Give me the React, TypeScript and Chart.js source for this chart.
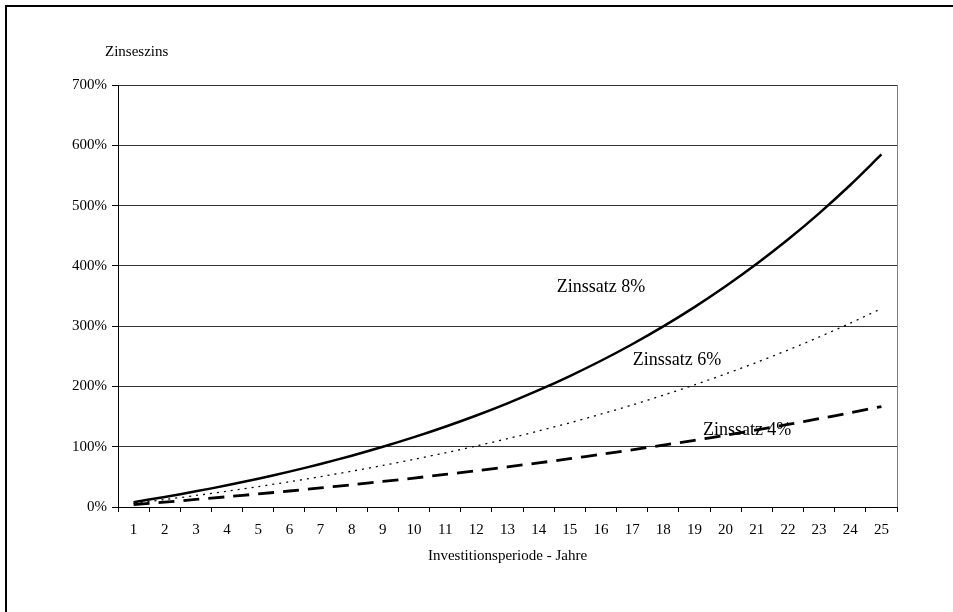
import React, { useEffect, useRef } from 'react';
import { Chart, registerables } from 'chart.js';

Chart.register(...registerables);

const years = ['1','2','3','4','5','6','7','8','9','10','11','12','13','14','15','16','17','18','19','20','21','22','23','24','25'];

const rate8 = [8.0, 16.64, 25.97, 36.05, 46.93, 58.69, 71.38, 85.09, 99.9, 115.89, 133.16, 151.82, 171.96, 193.72, 217.22, 242.59, 270.0, 299.6, 331.57, 366.1, 403.38, 443.65, 487.15, 534.12, 584.85];
const rate6 = [6.0, 12.36, 19.1, 26.25, 33.82, 41.85, 50.36, 59.38, 68.95, 79.08, 89.83, 101.22, 113.29, 126.09, 139.66, 154.04, 169.28, 185.43, 202.56, 220.71, 239.96, 260.35, 281.98, 304.89, 329.19];
const rate4 = [4.0, 8.16, 12.49, 16.99, 21.67, 26.53, 31.59, 36.86, 42.33, 48.02, 53.95, 60.1, 66.51, 73.17, 80.09, 87.3, 94.79, 102.58, 110.68, 119.11, 127.88, 136.99, 146.47, 156.33, 166.58];

const seriesLabels = ['Zinssatz 8%', 'Zinssatz 6%', 'Zinssatz 4%'];
const yAxisTitle = 'Zinseszins';
const xAxisTitle = 'Investitionsperiode - Jahre';
const yMin = 0;
const yMax = 700;
const yStep = 100;

// label anchor points in data coordinates (category index, value)
const labelAnchorX = [15, 17.44, 19.69];
const labelAnchorY = [365, 244, 128];

const FONT = '"Liberation Serif", "Times New Roman", serif';

const textPlugin = {
  id: 'textPlugin',
  beforeDraw(chart: any) {
    const ctx = chart.ctx;
    ctx.save();
    ctx.fillStyle = '#ffffff';
    ctx.fillRect(0, 0, chart.width, chart.height);
    ctx.fillStyle = '#000000';
    ctx.fillRect(5, 5, chart.width - 5, 2);
    ctx.fillRect(5, 5, 2, chart.height - 5);
    ctx.restore();
  },
  afterDatasetsDraw(chart: any) {
    const { ctx, chartArea: a, scales } = chart;
    const x = scales.x;
    const y = scales.y;
    ctx.save();
    ctx.strokeStyle = '#808080';
    ctx.lineWidth = 1;
    ctx.beginPath();
    const rx = Math.round(a.right) + 0.5;
    ctx.moveTo(rx, a.top);
    ctx.lineTo(rx, a.bottom);
    ctx.stroke();

    ctx.fillStyle = '#000000';
    ctx.font = '15px ' + FONT;
    ctx.textBaseline = 'middle';
    ctx.textAlign = 'left';
    ctx.fillText(yAxisTitle, a.left - 13, a.top - 33);
    ctx.textAlign = 'center';
    ctx.fillText(xAxisTitle, (a.left + a.right) / 2, a.bottom + 49);

    ctx.font = '18px ' + FONT;
    for (let i = 0; i < seriesLabels.length; i++) {
      ctx.fillText(seriesLabels[i], x.getPixelForValue(labelAnchorX[i]), y.getPixelForValue(labelAnchorY[i]));
    }
    ctx.restore();
  },
};

export default function App() {
  const ref = useRef<HTMLCanvasElement | null>(null);

  useEffect(() => {
    if (!ref.current) return;
    const chart = new Chart(ref.current, {
      type: 'line',
      data: {
        labels: years,
        datasets: [
          {
            label: seriesLabels[0],
            data: rate8,
            borderColor: '#000000',
            borderWidth: 2.5,
            pointRadius: 0,
            tension: 0.3,
            fill: false,
          },
          {
            label: seriesLabels[1],
            data: rate6,
            borderColor: '#000000',
            borderWidth: 1.3,
            borderDash: [2, 5],
            pointRadius: 0,
            tension: 0.3,
            fill: false,
          },
          {
            label: seriesLabels[2],
            data: rate4,
            borderColor: '#000000',
            borderWidth: 2.8,
            borderDash: [16, 9],
            pointRadius: 0,
            tension: 0.3,
            fill: false,
          },
        ],
      },
      options: {
        responsive: false,
        animation: false,
        devicePixelRatio: 1,
        layout: { padding: { left: 0, top: 85, right: 56, bottom: 45 } },
        plugins: {
          legend: { display: false },
          tooltip: { enabled: false },
          title: { display: false },
        },
        scales: {
          x: {
            type: 'category',
            offset: true,
            afterFit: (s: any) => { s.height = 60; },
            grid: {
              offset: true,
              drawOnChartArea: false,
              drawTicks: true,
              tickLength: 5,
              color: '#000000',
              tickColor: '#000000',
            },
            border: { display: true, color: '#000000', width: 1 },
            ticks: {
              color: '#000000',
              font: { family: FONT, size: 15 },
              padding: 9,
              maxRotation: 0,
              autoSkip: false,
            },
          },
          y: {
            min: yMin,
            max: yMax,
            afterFit: (s: any) => { s.width = 118; },
            grid: {
              color: '#333333',
              tickColor: '#000000',
              tickLength: 6,
              drawTicks: true,
            },
            border: { display: true, color: '#000000', width: 1 },
            ticks: {
              stepSize: yStep,
              color: '#000000',
              font: { family: FONT, size: 15 },
              padding: 5,
              callback: (v: any) => v + '%',
            },
          },
        },
      },
      plugins: [textPlugin],
    });
    return () => chart.destroy();
  }, []);

  return (
    <div style={{ position: 'absolute', left: 0, top: 0, width: 953, height: 612, overflow: 'hidden', background: '#fff' }}>
      <canvas ref={ref} width={953} height={612} style={{ display: 'block', width: 953, height: 612 }} />
    </div>
  );
}
